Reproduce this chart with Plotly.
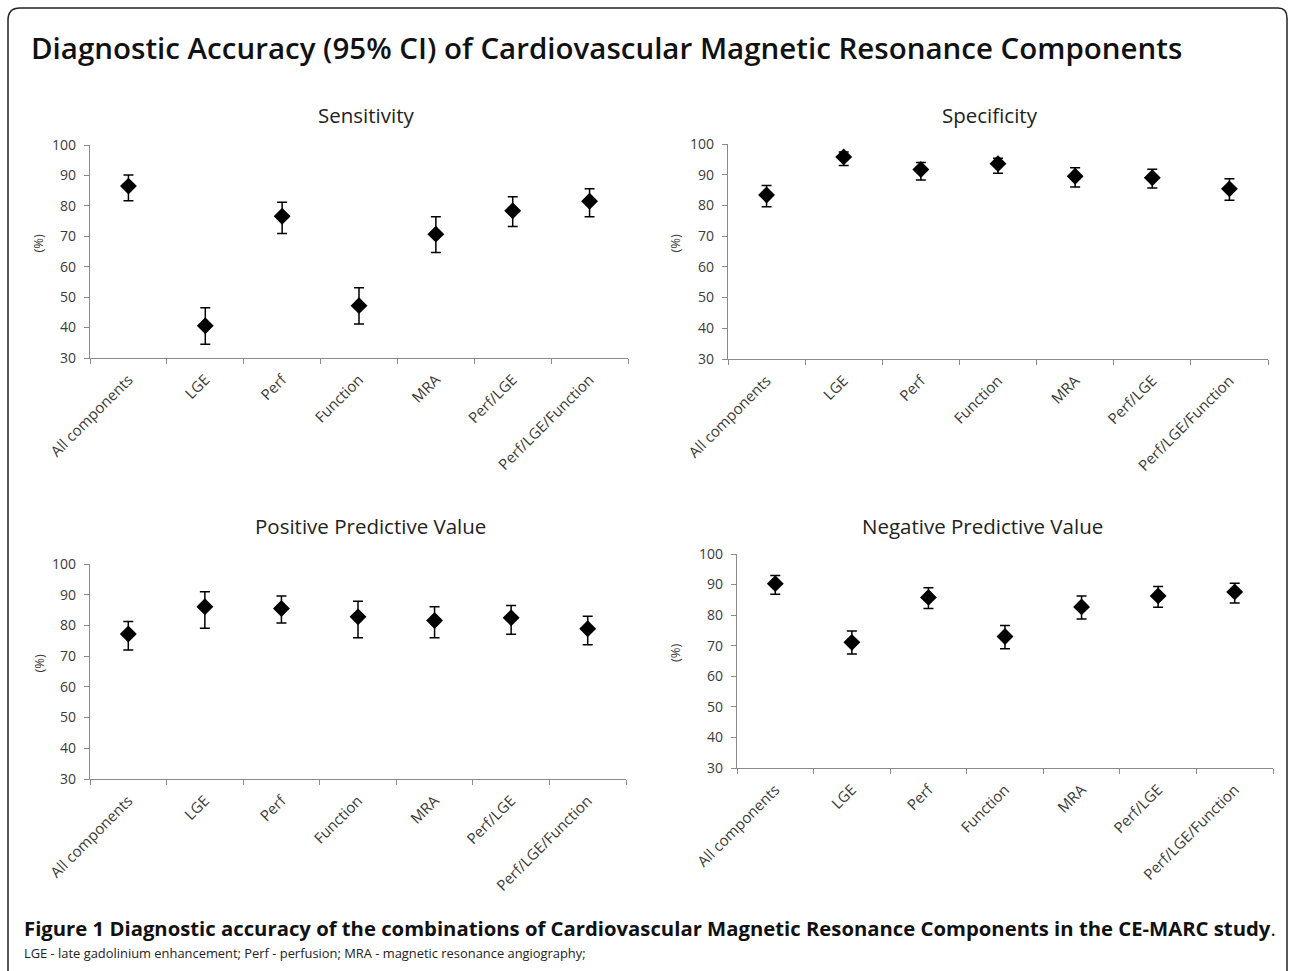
import plotly.graph_objects as go

categories = ["All components", "LGE", "Perf", "Function", "MRA", "Perf/LGE", "Perf/LGE/Function"]

sens = [86.5, 40.6, 76.6, 47.2, 70.7, 78.4, 81.5]
sens_lo = [81.7, 34.5, 70.9, 41.2, 64.7, 73.2, 76.4]
sens_hi = [90.1, 46.5, 81.2, 53.1, 76.4, 83.0, 85.6]

spec = [83.4, 95.8, 91.7, 93.6, 89.5, 89.0, 85.4]
spec_lo = [79.6, 93.0, 88.3, 90.5, 86.0, 85.7, 81.7]
spec_hi = [86.5, 97.4, 94.0, 95.4, 92.3, 91.8, 88.7]

ppv = [77.2, 86.1, 85.5, 82.8, 81.6, 82.5, 78.9]
ppv_lo = [72.0, 79.1, 80.8, 76.0, 76.0, 77.1, 73.7]
ppv_hi = [81.3, 91.0, 89.6, 87.9, 86.1, 86.5, 83.0]

npv = [90.3, 71.1, 85.8, 73.0, 82.7, 86.3, 87.6]
npv_lo = [86.8, 67.3, 82.2, 69.0, 78.7, 82.6, 84.0]
npv_hi = [93.0, 74.8, 89.0, 76.6, 86.3, 89.4, 90.4]

panel_titles = ["Sensitivity", "Specificity", "Positive Predictive Value", "Negative Predictive Value"]
y_ticks = [30, 40, 50, 60, 70, 80, 90, 100]

W, H = 1290, 971

def px(x):
    return x / W

def py(y):
    return 1 - y / H

# plot areas in pixels: (x0, x1, ytop, ybottom)
boxes = [(90, 628, 145, 358), (728, 1268, 144, 359), (90, 626, 564, 779), (737, 1273, 554, 768)]
title_pos = [(366, 115), (990, 115), (370, 526), (982, 526)]
ylab_x = [38, 675, 38, 675]

series = [(sens, sens_lo, sens_hi), (spec, spec_lo, spec_hi), (ppv, ppv_lo, ppv_hi), (npv, npv_lo, npv_hi)]

fig = go.Figure()
layout = dict(
    width=W, height=H,
    margin=dict(l=0, r=0, t=0, b=0, autoexpand=False),
    paper_bgcolor="white", plot_bgcolor="white",
    showlegend=False,
    font=dict(family="Open Sans", color="#404040"),
)
annotations = []
TXT = "#3a3a3a"
AX = "#8a8a8a"
for i, ((v, lo, hi), (x0, x1, yt, yb)) in enumerate(zip(series, boxes)):
    n = "" if i == 0 else str(i + 1)
    fig.add_trace(go.Scatter(
        x=categories, y=v, mode="markers",
        marker=dict(symbol="diamond", size=13, color="black"),
        error_y=dict(type="data", symmetric=False,
                     array=[h - m for h, m in zip(hi, v)],
                     arrayminus=[m - l for m, l in zip(v, lo)],
                     color="black", thickness=1.5, width=5),
        xaxis="x" + n, yaxis="y" + n,
    ))
    layout["xaxis" + n] = dict(
        domain=[px(x0), px(x1)], anchor="y" + n,
        type="category", range=[-0.5, 6.5],
        showline=True, linecolor=AX, linewidth=1.2,
        ticks="outside", tickson="boundaries", ticklen=5, tickcolor=AX,
        tickangle=-45, ticklabelstandoff=6,
        tickfont=dict(size=15, color=TXT, family="Open Sans"),
        showgrid=False, zeroline=False, fixedrange=True, automargin=False,
    )
    layout["yaxis" + n] = dict(
        domain=[py(yb), py(yt)], anchor="x" + n,
        range=[30, 100], tickvals=y_ticks,
        showline=True, linecolor=AX, linewidth=1.2,
        ticks="outside", ticklen=5, tickcolor=AX, ticklabelstandoff=5,
        tickfont=dict(size=14, color=TXT, family="Open Sans"),
        showgrid=False, zeroline=False, fixedrange=True, automargin=False,
    )
    tx, ty = title_pos[i]
    annotations.append(dict(
        text=panel_titles[i], x=px(tx), y=py(ty),
        xref="paper", yref="paper", showarrow=False, xanchor="center", yanchor="middle",
        font=dict(size=20.5, color="#222222", family="Open Sans"),
    ))
    annotations.append(dict(
        text="(%)", x=px(ylab_x[i]), y=py((yt + yb) / 2 - 8),
        xref="paper", yref="paper", showarrow=False, textangle=-90,
        xanchor="center", yanchor="middle",
        font=dict(size=13, color=TXT, family="Open Sans"),
    ))

annotations.append(dict(
    text="Diagnostic Accuracy (95% CI) of Cardiovascular Magnetic Resonance Components",
    x=px(606), y=py(47), xref="paper", yref="paper", showarrow=False,
    xanchor="center", yanchor="middle",
    font=dict(size=29.5, color="#111111", family="Open Sans", weight=600),
))
annotations.append(dict(
    text="<b>Figure 1 Diagnostic accuracy of the combinations of Cardiovascular Magnetic Resonance Components in the CE-MARC study</b>.",
    x=px(22), y=py(928), xref="paper", yref="paper", showarrow=False,
    xanchor="left", yanchor="middle",
    font=dict(size=20.3, color="#111111", family="Open Sans"),
))
annotations.append(dict(
    text="LGE - late gadolinium enhancement; Perf - perfusion; MRA - magnetic resonance angiography;",
    x=px(22), y=py(953), xref="paper", yref="paper", showarrow=False,
    xanchor="left", yanchor="middle",
    font=dict(size=12.9, color="#222222", family="Open Sans"),
))
layout["annotations"] = annotations

# outer rounded frame
path = (f"M {px(8)},{py(980)} L {px(8)},{py(20)} Q {px(8)},{py(8)} {px(20)},{py(8)} "
        f"L {px(1278)},{py(8)} Q {px(1287)},{py(8)} {px(1287)},{py(18)} L {px(1287)},{py(980)}")
layout["shapes"] = [dict(type="path", path=path, xref="paper", yref="paper",
                         line=dict(color="#222222", width=1.5))]

fig.update_layout(**layout)
fig.write_html("out.html", config={"displayModeBar": False},
               post_script="document.body.style.margin='0px';")
